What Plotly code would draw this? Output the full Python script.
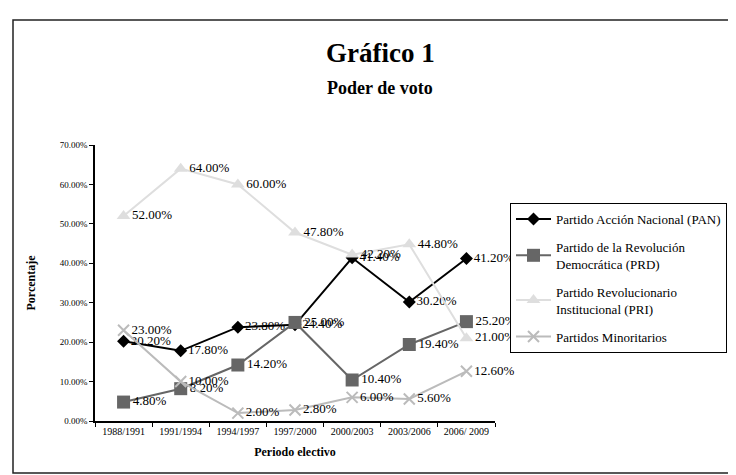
import plotly.graph_objects as go

periods = ["1988/1991", "1991/1994", "1994/1997", "1997/2000", "2000/2003", "2003/2006", "2006/ 2009"]
pan = [20.20, 17.80, 23.80, 24.40, 41.40, 30.20, 41.20]
prd = [4.80, 8.20, 14.20, 25.00, 10.40, 19.40, 25.20]
pri = [52.00, 64.00, 60.00, 47.80, 42.20, 44.80, 21.00]
minor = [23.00, 10.00, 2.00, 2.80, 6.00, 5.60, 12.60]

names = ["Partido Acción Nacional (PAN)",
         "Partido de la Revolución<br>Democrática (PRD)",
         "Partido Revolucionario<br>Institucional (PRI)",
         "Partidos Minoritarios"]

FONT = "Liberation Serif, serif"

def lbl(vals):
    return ["%.2f%%" % v for v in vals]

fig = go.Figure()
series = [
    (pan, names[0], "#000000", dict(symbol="diamond", size=10, color="#000000")),
    (prd, names[1], "#666666", dict(symbol="square", size=13, color="#666666")),
    (pri, names[2], "#dedede", dict(symbol="triangle-up", size=12, color="#dedede")),
    (minor, names[3], "#bbbbbb", dict(symbol="x-thin", size=11, color="#bbbbbb",
                                      line=dict(width=2, color="#bbbbbb"))),
]
for i, (vals, name, col, mk) in enumerate(series):
    fig.add_trace(go.Scatter(
        x=periods, y=[v / 100 for v in vals], name=name,
        mode="lines+markers+text", text=lbl(vals), textposition="middle right",
        textfont=dict(family=FONT, size=13, color="#000000"),
        line=dict(color=col, width=2), marker=mk,
        legendgroup="g%d" % i, cliponaxis=False,
    ))

L, R, T, B = 87, 249, 137, 62
W, H = 736, 475
pw, ph = W - L - R, H - T - B

def px(xp):
    return (xp - L) / pw

def py(yp):
    return (H - B - yp) / ph

fig.update_layout(
    width=W, height=H,
    margin=dict(l=L, r=R, t=T, b=B, autoexpand=False),
    paper_bgcolor="white", plot_bgcolor="white",
    font=dict(family=FONT, color="#000000"),
    showlegend=True,
    legend=dict(x=px(502), y=py(195), xanchor="left", yanchor="top",
                bordercolor="#000000", borderwidth=1, bgcolor="white",
                font=dict(family=FONT, size=13), tracegroupgap=8,
                itemwidth=35),
    xaxis=dict(type="category", range=[-0.5, 6.5], showline=True, linecolor="#000000",
               linewidth=1.5, ticks="outside", ticklen=4, tickcolor="#000000",
               tickson="boundaries", showgrid=False, zeroline=False,
               tickfont=dict(family=FONT, size=10),
               title=dict(text="<b>Periodo electivo</b>", font=dict(family=FONT, size=12),
                          standoff=12)),
    yaxis=dict(range=[0, 0.7], dtick=0.1, tickformat=".2%", showline=True,
               linecolor="#000000", linewidth=1.5, ticks="outside", ticklen=4,
               tickcolor="#000000", showgrid=False, zeroline=False,
               tickfont=dict(family=FONT, size=9),
               title=dict(text="<b>Porcentaje</b>", font=dict(family=FONT, size=12),
                          standoff=22)),
    annotations=[
        dict(text="<b>Gráfico 1</b>", x=px(372), y=py(45), xref="paper", yref="paper",
             showarrow=False, font=dict(family=FONT, size=27), xanchor="center", yanchor="middle"),
        dict(text="<b>Poder de voto</b>", x=px(372), y=py(80), xref="paper", yref="paper",
             showarrow=False, font=dict(family=FONT, size=18), xanchor="center", yanchor="middle"),
    ],
    shapes=[dict(type="rect", xref="paper", yref="paper", x0=px(5), x1=px(760),
                 y0=py(465), y1=py(12), line=dict(color="#222222", width=1.5), layer="below")],
)

fig.write_html("out.html")
